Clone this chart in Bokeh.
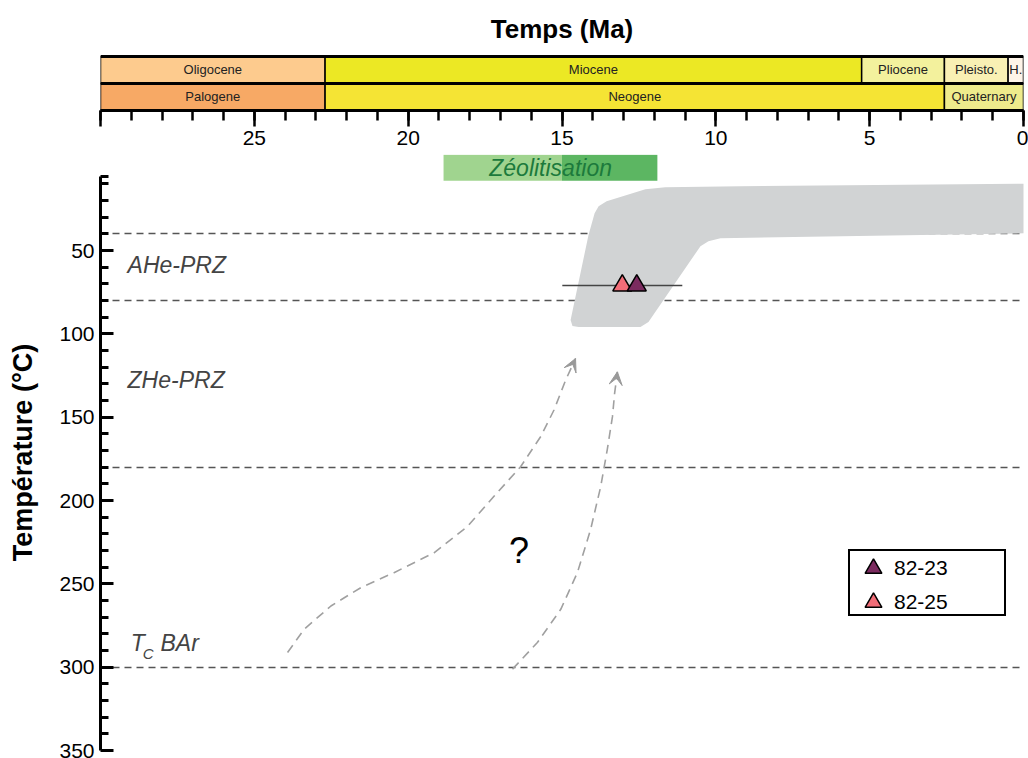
from bokeh.plotting import figure
from bokeh.layouts import column
from bokeh.models import (Range1d, FixedTicker, Legend, LegendItem, Arrow, VeeHead,
                          ColumnDataSource)
from bokeh.core.properties import value
from bokeh.embed import file_html
from bokeh.resources import INLINE

FONT = "Liberation Sans"

# ---------------- data ----------------
# geological timescale (Ma)
epoch_names = ["Oligocene", "Miocene", "Pliocene", "Pleisto.", "H."]
epoch_start = [30.0, 22.7, 5.26, 2.57, 0.5]
epoch_end = [22.7, 5.26, 2.57, 0.5, 0.0]
epoch_colors = ["#FDCB8E", "#ECE824", "#F3F19D", "#F9F0B4", "#FEF4E8"]

period_names = ["Palogene", "Neogene", "Quaternary"]
period_start = [30.0, 22.7, 2.57]
period_end = [22.7, 2.57, 0.0]
period_colors = ["#F7A965", "#F5E434", "#EEEB8C"]

time_ticks = [0, 5, 10, 15, 20, 25, 30]
temp_ticks = [50, 100, 150, 200, 250, 300, 350]

# zeolitisation interval (Ma)
zeo_start = [18.85, 15.0]
zeo_end = [15.0, 11.9]
zeo_colors = ["#A0D48F", "#5CB662"]

# samples
sample_names = ["82-23", "82-25"]
sample_age = [12.57, 13.04]
sample_temp = [71, 71]
sample_colors = ["#7B2B5F", "#F26D78"]
err_age_min = [11.09]
err_age_max = [14.99]
err_temp = [71]

# thermal-history envelope (age Ma, temperature C)
env_age = [-0.3, 9.20, 11.64, 12.29, 13.55, 13.81, 13.94, 14.14, 14.72, 14.66,
           14.46, 12.45, 12.19, 10.50, 10.24, 9.85, -0.3]
env_temp = [9.9, 11.4, 12.1, 13.3, 20.5, 23.5, 27.7, 40.8, 91.7, 95.3,
            95.9, 95.9, 92.9, 47.4, 44.4, 42.6, 39.6]

# partial retention zone limits / closure temperature (C)
zone_temps = [40, 80, 180, 300]

# hypothetical paths (dashed arrows)
path1_age = [23.92, 23.38, 22.51, 21.54, 20.46, 19.16, 18.07, 17.21, 16.34, 15.69, 15.26, 14.88, 14.56]
path1_temp = [291.2, 277.2, 263.3, 252.3, 243.3, 231.4, 215.5, 197.5, 179.6, 161.6, 145.7, 127.7, 114.8]
path2_age = [16.61, 15.80, 15.04, 14.50, 14.07, 13.74, 13.53, 13.36, 13.29, 13.20]
path2_temp = [301.2, 285.2, 265.3, 243.3, 217.4, 191.5, 169.6, 149.7, 135.7, 122.8]

# ---------------- top: timescale ----------------
top = figure(width=1028, height=154, x_range=Range1d(30, 0), y_range=Range1d(0, 2.074),
             output_backend="svg", toolbar_location=None, tools="",
             min_border_left=100, min_border_right=5, min_border_top=54, min_border_bottom=44,
             x_axis_location="below", y_axis_location=None, outline_line_color=None,
             title="Temps (Ma)")
top.title.align = "center"
top.title.text_font = FONT
top.title.text_font_size = "26px"
top.title.text_font_style = "bold"
top.title.text_color = "black"
top.title.standoff = 22
top.grid.visible = False

top.quad(left=epoch_start, right=epoch_end, bottom=1, top=2, fill_color=epoch_colors,
         line_color="black", line_width=1.5)
top.quad(left=period_start, right=period_end, bottom=0, top=1, fill_color=period_colors,
         line_color="black", line_width=1.5)
top.hspan(y=[0, 1, 2], line_color="black", line_width=3)
top.text(x=[(a + b) / 2 for a, b in zip(epoch_start, epoch_end)], y=[1.5] * len(epoch_names),
         text=epoch_names, text_align="center", text_baseline="middle",
         text_font=value(FONT), text_font_size="13px", text_color="#222222")
top.text(x=[(a + b) / 2 for a, b in zip(period_start, period_end)], y=[0.5] * len(period_names),
         text=period_names, text_align="center", text_baseline="middle",
         text_font=value(FONT), text_font_size="13px", text_color="#222222")

xa = top.xaxis[0]
xa.ticker = FixedTicker(ticks=time_ticks, minor_ticks=list(range(0, 31)))
xa.major_label_overrides = {30: ""}
xa.axis_line_width = 3
xa.axis_line_color = "black"
xa.major_tick_line_width = 2.5
xa.minor_tick_line_width = 2.5
xa.major_tick_out = 16
xa.major_tick_in = 0
xa.minor_tick_out = 10
xa.minor_tick_in = 0
xa.major_label_text_font = FONT
xa.major_label_text_font_size = "21px"
xa.major_label_text_color = "black"
xa.major_label_standoff = 4

# ---------------- main: temperature-time ----------------
p = figure(width=1028, height=604, x_range=Range1d(30, 0), y_range=Range1d(350, -7.6),
           output_backend="svg", toolbar_location=None, tools="",
           min_border_left=100, min_border_right=5, min_border_top=0, min_border_bottom=8,
           x_axis_location=None, y_axis_location="left", outline_line_color=None)
p.grid.visible = False

ya = p.yaxis[0]
ya.bounds = (5.7, 350)
ya.ticker = FixedTicker(ticks=temp_ticks, minor_ticks=[5.7] + list(range(10, 350, 10)))
ya.axis_line_width = 3
ya.axis_line_color = "black"
ya.major_tick_line_width = 3
ya.minor_tick_line_width = 3
ya.major_tick_in = 13
ya.major_tick_out = 0
ya.minor_tick_in = 8
ya.minor_tick_out = 0
ya.major_label_text_font = FONT
ya.major_label_text_font_size = "21px"
ya.major_label_text_color = "black"
ya.major_label_standoff = 6
ya.axis_label = "Température (°C)"
ya.axis_label_text_font = FONT
ya.axis_label_text_font_size = "27px"
ya.axis_label_text_font_style = "bold"
ya.axis_label_text_color = "black"
ya.axis_label_standoff = 18

# dashed zone lines
p.hspan(y=zone_temps, line_color="#555555", line_width=1.5, line_dash="7 5")

# envelope
p.patch(env_age, env_temp, fill_color="#D1D3D4", line_color=None)

# zeolitisation bar
p.quad(left=zeo_start, right=zeo_end, bottom=8.1, top=-7.4, fill_color=zeo_colors, line_color=None)
p.text(x=[15.37], y=[0.4], text=["Zéolitisation"], text_align="center", text_baseline="middle",
       text_font=value(FONT), text_font_size="23px", text_font_style="italic", text_color="#1C7A3C")

# zone labels
p.text(x=[29.12, 29.12], y=[58.8, 127.7], text=["AHe-PRZ", "ZHe-PRZ"], text_align="left",
       text_baseline="middle", text_font=value(FONT), text_font_size="23px",
       text_font_style="italic", text_color="#444444")
p.text(x=[29.02], y=[285.6], text=["T"], text_align="left", text_baseline="middle",
       text_font=value(FONT), text_font_size="23px", text_font_style="italic", text_color="#444444")
p.text(x=[28.63], y=[291.5], text=["C"], text_align="left", text_baseline="middle",
       text_font=value(FONT), text_font_size="15px", text_font_style="italic", text_color="#444444")
p.text(x=[28.05], y=[285.6], text=["BAr"], text_align="left", text_baseline="middle",
       text_font=value(FONT), text_font_size="23px", text_font_style="italic", text_color="#444444")

# hypothetical paths
for ages, temps in [(path1_age, path1_temp), (path2_age, path2_temp)]:
    p.line(ages, temps, line_color="#A0A0A0", line_width=1.6, line_dash="9 6")
    p.add_layout(Arrow(end=VeeHead(size=13, fill_color="#999999", line_color="#999999", line_width=1),
                       x_start=ages[-2], y_start=temps[-2], x_end=ages[-1], y_end=temps[-1],
                       line_alpha=0))

p.text(x=[16.40], y=[230.2], text=["?"], text_align="center", text_baseline="middle",
       text_font=value(FONT), text_font_size="36px", text_color="black")

# error bar and samples
p.segment(x0=err_age_min, y0=err_temp, x1=err_age_max, y1=err_temp, line_color="#444444", line_width=1.5)
renderers = {}
for i in [1, 0]:
    src = ColumnDataSource(dict(age=[sample_age[i]], temp=[sample_temp[i]]))
    renderers[i] = p.scatter("age", "temp", source=src, marker="triangle", size=19,
                             fill_color=sample_colors[i], line_color="black", line_width=1.5)

# legend: framed box + one entry per sample
blank = p.scatter(x=[], y=[], marker="square", fill_alpha=0, line_alpha=0)
box = Legend(items=[LegendItem(label=" ", renderers=[blank])], location=(748, 134),
             border_line_color="black", border_line_width=2.5, border_line_alpha=1,
             background_fill_color="white", background_fill_alpha=1,
             padding=0, spacing=0, margin=0, glyph_width=154, glyph_height=63,
             label_width=0, label_height=0, label_standoff=0, label_text_font_size="1px")
p.add_layout(box)
for i, ypos in [(0, 161), (1, 127)]:
    lg = Legend(items=[LegendItem(label=sample_names[i], renderers=[renderers[i]])],
                location=(752, ypos), border_line_color=None,
                background_fill_alpha=0, padding=0, spacing=0, margin=0,
                glyph_width=42, glyph_height=42, label_height=42, label_width=100,
                label_standoff=0, label_text_font=FONT, label_text_font_size="21px",
                label_text_color="black")
    p.add_layout(lg)

layout = column(top, p, spacing=0)
open("out.html", "w").write(file_html(layout, INLINE))
